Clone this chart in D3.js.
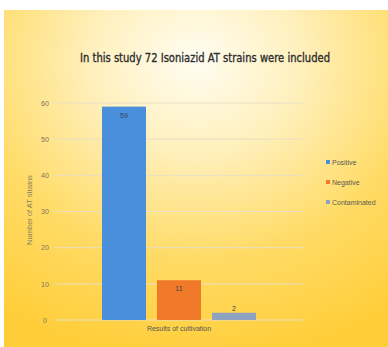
<!DOCTYPE html>
<html><head><meta charset="utf-8">
<script src="https://cdn.jsdelivr.net/npm/d3@7"></script>
<style>html,body{margin:0;padding:0;background:#fff;}</style>
</head><body>
<svg id="c" width="388" height="347"></svg>
<script>
const categories = ["Results of cultivation"];
const seriesNames = ["Positive", "Negative", "Contaminated"];
const seriesValues = [59, 11, 2];
const seriesColors = ["#4a8fdc", "#f07a2a", "#8fa2bf"];
const yTicks = [0, 10, 20, 30, 40, 50, 60];
const title = "In this study 72 Isoniazid AT strains were included";
const yTitle = "Number of AT strains";

const svg = d3.select("#c");
const defs = svg.append("defs");
const g = defs.append("radialGradient").attr("id","bg")
  .attr("cx","0.5").attr("cy","0.15").attr("r","0.9")
  .attr("fx","0.5").attr("fy","0.15");
g.append("stop").attr("offset","0").attr("stop-color","#fffdf2");
g.append("stop").attr("offset","0.3").attr("stop-color","#fff0bd");
g.append("stop").attr("offset","0.65").attr("stop-color","#ffdb66");
g.append("stop").attr("offset","1").attr("stop-color","#ffcd38");

svg.append("rect").attr("x",4).attr("y",10).attr("width",384).attr("height",337).attr("fill","url(#bg)");

svg.append("text").attr("x",205).attr("y",62).attr("text-anchor","middle")
  .attr("font-family","Liberation Sans Narrow, DejaVu Sans Condensed, sans-serif")
  .attr("font-size",13).attr("fill","#2e2e2e").attr("stroke","#2e2e2e").attr("stroke-width",0.35)
  .attr("textLength",250).attr("lengthAdjust","spacingAndGlyphs")
  .text(title);

const y = d3.scaleLinear().domain([0,60]).range([320,103]);
const x1 = d3.scaleBand().domain(seriesNames).range([102,256]).paddingInner(0.2);

svg.append("g").selectAll("line").data(yTicks).join("line")
  .attr("x1",55).attr("x2",303).attr("y1",d=>y(d)).attr("y2",d=>y(d))
  .attr("stroke","#e8dfc4").attr("stroke-width",1);

const ax = d3.axisLeft(y).tickValues(yTicks).tickSize(0).tickPadding(0);
const axg = svg.append("g").attr("transform","translate(45,0)").call(ax);
axg.select(".domain").remove();
axg.selectAll("text").attr("font-family","Liberation Sans Narrow, sans-serif").attr("font-size",7).attr("fill","#7a7560").attr("text-anchor","middle");

svg.append("text").attr("transform","translate(32,210) rotate(-90)").attr("text-anchor","middle")
  .attr("font-family","Liberation Sans Narrow, sans-serif").attr("font-size",7.5).attr("fill","#8a8060")
  .text(yTitle);

const bars = svg.append("g");
bars.selectAll("rect").data(seriesValues).join("rect")
  .attr("x",(d,i)=>x1(seriesNames[i])).attr("width",x1.bandwidth())
  .attr("y",d=>y(d)).attr("height",d=>y(0)-y(d))
  .attr("fill",(d,i)=>seriesColors[i]);
bars.selectAll("text").data(seriesValues).join("text")
  .attr("x",(d,i)=>x1(seriesNames[i])+x1.bandwidth()/2)
  .attr("y",(d,i)=> d>5 ? y(d)+11 : y(d)-2)
  .attr("text-anchor","middle").attr("font-family","Liberation Sans Narrow, sans-serif")
  .attr("font-size",7).attr("fill","#3a3f50").text(d=>d);

svg.append("text").attr("x",179).attr("y",331).attr("text-anchor","middle")
  .attr("font-family","Liberation Sans Narrow, sans-serif").attr("font-size",7).attr("fill","#555")
  .text(categories[0]);

const leg = svg.append("g").selectAll("g").data(seriesNames).join("g")
  .attr("transform",(d,i)=>`translate(328,${162+i*20})`);
leg.append("rect").attr("x",-2).attr("y",-2).attr("width",4).attr("height",4).attr("fill",(d,i)=>seriesColors[i]);
leg.append("text").attr("x",4).attr("y",2.5).attr("font-family","Liberation Sans Narrow, sans-serif")
  .attr("font-size",7).attr("fill","#5a5a50").text(d=>d);
</script>
</body></html>
